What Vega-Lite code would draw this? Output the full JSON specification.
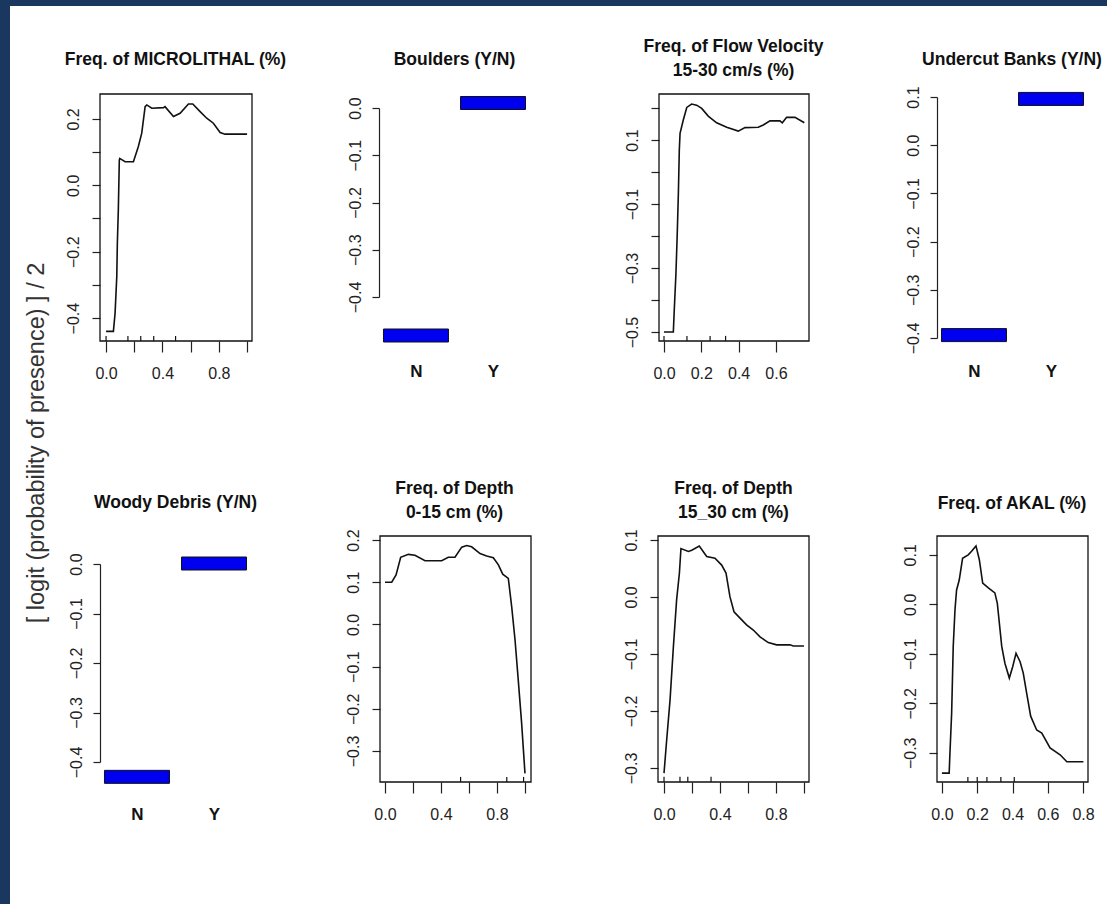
{
  "$schema": "https://vega.github.io/schema/vega-lite/v6.json",
  "background": "#1a375f",
  "padding": {"left": 10, "top": 6, "right": 0, "bottom": 0},
  "title": {"text": "[ logit (probability of presence) ] / 2", "orient": "left", "anchor": "middle", "frame": "bounds", "offset": -50, "dx": 12, "font": "Liberation Sans", "fontSize": 23.5, "fontWeight": "normal", "color": "#333", "baseline": "middle"},
  "columns": 4,
  "spacing": 0,
  "bounds": "flush",
  "concat": [
    {
      "width": 279, "height": 443,
      "title": {"text": "Freq. of MICROLITHAL (%)", "dx": 26, "offset": -62},
      "layer": [
        {
          "data": {"values": [{"x":0,"y":-0.44},{"x":0.052,"y":-0.44},{"x":0.064,"y":-0.385},{"x":0.076,"y":-0.275},{"x":0.08,"y":-0.175},{"x":0.087,"y":-0.074},{"x":0.094,"y":0.076},{"x":0.097,"y":0.081},{"x":0.135,"y":0.071},{"x":0.194,"y":0.071},{"x":0.229,"y":0.117},{"x":0.253,"y":0.157},{"x":0.277,"y":0.237},{"x":0.289,"y":0.242},{"x":0.324,"y":0.232},{"x":0.407,"y":0.234},{"x":0.418,"y":0.237},{"x":0.478,"y":0.207},{"x":0.525,"y":0.217},{"x":0.584,"y":0.245},{"x":0.615,"y":0.245},{"x":0.667,"y":0.222},{"x":0.714,"y":0.202},{"x":0.761,"y":0.187},{"x":0.809,"y":0.159},{"x":0.844,"y":0.154},{"x":1.0,"y":0.154}]},
          "mark": {"type": "line", "color": "#111", "strokeWidth": 1.6},
          "encoding": {
            "x": {"field": "x", "type": "quantitative", "scale": {"domain": [-0.043, 1.035], "range": [90, 242], "nice": false, "zero": false},
                  "axis": {"orient": "bottom", "offset": -108, "values": [0, 0.2, 0.4, 0.6, 0.8, 1], "labelExpr": "round(datum.value*10) % 4 == 0 ? format(datum.value, '.1f') : ''", "title": null, "domain": false, "tickSize": 11, "labelPadding": 13}},
            "y": {"field": "y", "type": "quantitative", "scale": {"domain": [-0.469, 0.275], "range": [335, 88], "nice": false, "zero": false},
                  "axis": {"orient": "left", "offset": -90, "values": [-0.4, -0.3, -0.2, -0.1, 0, 0.1, 0.2], "labelExpr": "round(datum.value*10) % 2 == 0 ? format(datum.value, '.1f') : ''", "title": null, "domain": false, "tickSize": 8, "labelAngle": -90, "labelAlign": "center", "labelBaseline": "bottom", "labelPadding": 11}}
          }
        },
        {"data": {"values": [{"box": "frame"}]}, "mark": {"type": "rect", "filled": false, "color": "#111", "strokeWidth": 1.3}, "encoding": {"x": {"datum": -0.043}, "x2": {"datum": 1.035}, "y": {"datum": -0.469}, "y2": {"datum": 0.275}}},
        {"data": {"values": [{"x":0},{"x":0.155},{"x":0.246},{"x":0.338},{"x":0.493}]}, "mark": {"type": "rule", "color": "#111", "strokeWidth": 1.2}, "encoding": {"x": {"field": "x", "type": "quantitative"}, "y": {"datum": -0.469}, "y2": {"datum": -0.454}}}
      ]
    },
    {
      "width": 279, "height": 443,
      "title": {"text": "Boulders (Y/N)", "dx": 26, "offset": -62},
      "data": {"values": [{"level": "N", "value": -0.4815}, {"level": "Y", "value": 0.0106}]},
      "mark": {"type": "tick", "size": 65, "thickness": 13, "color": "#0000f0", "stroke": "#111", "strokeWidth": 1, "opacity": 1},
      "encoding": {
        "x": {"field": "level", "type": "nominal", "scale": {"type": "point", "domain": ["N", "Y"], "range": [90, 241], "padding": 0.48},
              "axis": {"orient": "bottom", "offset": -108, "domain": false, "ticks": false, "tickSize": 0, "labelPadding": 22, "labelAngle": 0, "labelFont": "Liberation Sans", "labelFontWeight": "bold", "labelFontSize": 17, "labelColor": "#111", "title": null}},
        "y": {"field": "value", "type": "quantitative", "scale": {"domain": [-0.4, 0], "range": [291, 102], "nice": false, "zero": false},
              "axis": {"orient": "left", "offset": -90, "values": [-0.4, -0.3, -0.2, -0.1, 0], "format": ".1f", "title": null, "domain": true, "tickSize": 7, "labelAngle": -90, "labelAlign": "center", "labelBaseline": "bottom", "labelPadding": 9}}
      }
    },
    {
      "width": 279, "height": 443,
      "title": {"text": ["Freq. of Flow Velocity", "15-30 cm/s (%)"], "dx": 26, "offset": -73},
      "layer": [
        {
          "data": {"values": [{"x":0,"y":-0.5},{"x":0.05,"y":-0.5},{"x":0.055,"y":-0.431},{"x":0.064,"y":-0.317},{"x":0.071,"y":-0.192},{"x":0.077,"y":-0.067},{"x":0.082,"y":0.069},{"x":0.086,"y":0.121},{"x":0.103,"y":0.162},{"x":0.122,"y":0.202},{"x":0.148,"y":0.2125},{"x":0.175,"y":0.209},{"x":0.202,"y":0.199},{"x":0.237,"y":0.175},{"x":0.282,"y":0.154},{"x":0.336,"y":0.14},{"x":0.398,"y":0.128},{"x":0.434,"y":0.139},{"x":0.505,"y":0.14},{"x":0.532,"y":0.147},{"x":0.568,"y":0.16},{"x":0.621,"y":0.16},{"x":0.634,"y":0.154},{"x":0.657,"y":0.171},{"x":0.702,"y":0.171},{"x":0.752,"y":0.154}]},
          "mark": {"type": "line", "color": "#111", "strokeWidth": 1.6},
          "encoding": {
            "x": {"field": "x", "type": "quantitative", "scale": {"domain": [-0.0268, 0.777], "range": [91, 241], "nice": false, "zero": false},
                  "axis": {"orient": "bottom", "offset": -108, "values": [0, 0.2, 0.4, 0.6], "format": ".1f", "title": null, "domain": false, "tickSize": 11, "labelPadding": 13}},
            "y": {"field": "y", "type": "quantitative", "scale": {"domain": [-0.528, 0.244], "range": [335, 88], "nice": false, "zero": false},
                  "axis": {"orient": "left", "offset": -91, "values": [-0.5, -0.4, -0.3, -0.2, -0.1, 0, 0.1, 0.2], "labelExpr": "abs(round(datum.value*10)) % 2 == 1 ? format(datum.value, '.1f') : ''", "title": null, "domain": false, "tickSize": 8, "labelAngle": -90, "labelAlign": "center", "labelBaseline": "bottom", "labelPadding": 11}}
          }
        },
        {"data": {"values": [{"box": "frame"}]}, "mark": {"type": "rect", "filled": false, "color": "#111", "strokeWidth": 1.3}, "encoding": {"x": {"datum": -0.0268}, "x2": {"datum": 0.777}, "y": {"datum": -0.528}, "y2": {"datum": 0.244}}},
        {"data": {"values": [{"x":0},{"x":0.123},{"x":0.247},{"x":0.33}]}, "mark": {"type": "rule", "color": "#111", "strokeWidth": 1.2}, "encoding": {"x": {"field": "x", "type": "quantitative"}, "y": {"datum": -0.528}, "y2": {"datum": -0.512}}}
      ]
    },
    {
      "width": 260, "height": 443,
      "title": {"text": "Undercut Banks (Y/N)", "dx": 35, "offset": -62},
      "data": {"values": [{"level": "N", "value": -0.394}, {"level": "Y", "value": 0.096}]},
      "mark": {"type": "tick", "size": 65, "thickness": 13, "color": "#0000f0", "stroke": "#111", "strokeWidth": 1, "opacity": 1},
      "encoding": {
        "x": {"field": "level", "type": "nominal", "scale": {"type": "point", "domain": ["N", "Y"], "range": [90, 241], "padding": 0.48},
              "axis": {"orient": "bottom", "offset": -108, "domain": false, "ticks": false, "tickSize": 0, "labelPadding": 22, "labelAngle": 0, "labelFont": "Liberation Sans", "labelFontWeight": "bold", "labelFontSize": 17, "labelColor": "#111", "title": null}},
        "y": {"field": "value", "type": "quantitative", "scale": {"domain": [-0.4, 0.1], "range": [332, 91], "nice": false, "zero": false},
              "axis": {"orient": "left", "offset": -90, "values": [-0.4, -0.3, -0.2, -0.1, 0, 0.1], "format": ".1f", "title": null, "domain": true, "tickSize": 7, "labelAngle": -90, "labelAlign": "center", "labelBaseline": "bottom", "labelPadding": 9}}
      }
    },
    {
      "width": 279, "height": 455,
      "title": {"text": "Woody Debris (Y/N)", "dx": 26, "offset": -62},
      "data": {"values": [{"level": "N", "value": -0.43}, {"level": "Y", "value": 0.001}]},
      "mark": {"type": "tick", "size": 65, "thickness": 13, "color": "#0000f0", "stroke": "#111", "strokeWidth": 1, "opacity": 1},
      "encoding": {
        "x": {"field": "level", "type": "nominal", "scale": {"type": "point", "domain": ["N", "Y"], "range": [90, 241], "padding": 0.48},
              "axis": {"orient": "bottom", "offset": -122, "domain": false, "ticks": false, "tickSize": 0, "labelPadding": 24, "labelAngle": 0, "labelFont": "Liberation Sans", "labelFontWeight": "bold", "labelFontSize": 17, "labelColor": "#111", "title": null}},
        "y": {"field": "value", "type": "quantitative", "scale": {"domain": [-0.4, 0], "range": [313, 115], "nice": false, "zero": false},
              "axis": {"orient": "left", "offset": -90, "values": [-0.4, -0.3, -0.2, -0.1, 0], "format": ".1f", "title": null, "domain": true, "tickSize": 7, "labelAngle": -90, "labelAlign": "center", "labelBaseline": "bottom", "labelPadding": 9}}
      }
    },
    {
      "width": 279, "height": 455,
      "title": {"text": ["Freq. of Depth", " 0-15 cm (%)"], "dx": 26, "offset": -72},
      "layer": [
        {
          "data": {"values": [{"x":0,"y":0.1},{"x":0.048,"y":0.1},{"x":0.079,"y":0.117},{"x":0.112,"y":0.159},{"x":0.167,"y":0.166},{"x":0.214,"y":0.164},{"x":0.286,"y":0.151},{"x":0.405,"y":0.151},{"x":0.452,"y":0.159},{"x":0.5,"y":0.159},{"x":0.548,"y":0.183},{"x":0.583,"y":0.187},{"x":0.619,"y":0.184},{"x":0.679,"y":0.168},{"x":0.726,"y":0.162},{"x":0.774,"y":0.158},{"x":0.81,"y":0.141},{"x":0.841,"y":0.119},{"x":0.881,"y":0.109},{"x":0.905,"y":0.042},{"x":0.929,"y":-0.037},{"x":0.952,"y":-0.132},{"x":0.976,"y":-0.234},{"x":1.0,"y":-0.353}]},
          "mark": {"type": "line", "color": "#111", "strokeWidth": 1.6},
          "encoding": {
            "x": {"field": "x", "type": "quantitative", "scale": {"domain": [-0.0357, 1.043], "range": [91, 242], "nice": false, "zero": false},
                  "axis": {"orient": "bottom", "offset": -122, "values": [0, 0.2, 0.4, 0.6, 0.8, 1], "labelExpr": "round(datum.value*10) % 4 == 0 ? format(datum.value, '.1f') : ''", "title": null, "domain": false, "tickSize": 11, "labelPadding": 13}},
            "y": {"field": "y", "type": "quantitative", "scale": {"domain": [-0.3735, 0.2095], "range": [333, 87], "nice": false, "zero": false},
                  "axis": {"orient": "left", "offset": -91, "values": [-0.3, -0.2, -0.1, 0, 0.1, 0.2], "format": ".1f", "title": null, "domain": false, "tickSize": 8, "labelAngle": -90, "labelAlign": "center", "labelBaseline": "bottom", "labelPadding": 11}}
          }
        },
        {"data": {"values": [{"box": "frame"}]}, "mark": {"type": "rect", "filled": false, "color": "#111", "strokeWidth": 1.3}, "encoding": {"x": {"datum": -0.0357}, "x2": {"datum": 1.043}, "y": {"datum": -0.3735}, "y2": {"datum": 0.2095}}},
        {"data": {"values": [{"x":0.54},{"x":0.87},{"x":0.99}]}, "mark": {"type": "rule", "color": "#111", "strokeWidth": 1.2}, "encoding": {"x": {"field": "x", "type": "quantitative"}, "y": {"datum": -0.3735}, "y2": {"datum": -0.3615}}}
      ]
    },
    {
      "width": 279, "height": 455,
      "title": {"text": ["Freq. of Depth", " 15_30 cm (%)"], "dx": 26, "offset": -72},
      "layer": [
        {
          "data": {"values": [{"x":0,"y":-0.309},{"x":0.019,"y":-0.251},{"x":0.043,"y":-0.181},{"x":0.067,"y":-0.087},{"x":0.09,"y":-0.005},{"x":0.11,"y":0.042},{"x":0.121,"y":0.085},{"x":0.174,"y":0.08},{"x":0.198,"y":0.082},{"x":0.252,"y":0.0895},{"x":0.305,"y":0.071},{"x":0.364,"y":0.068},{"x":0.412,"y":0.056},{"x":0.443,"y":0.042},{"x":0.471,"y":0.0005},{"x":0.5,"y":-0.026},{"x":0.543,"y":-0.037},{"x":0.59,"y":-0.049},{"x":0.638,"y":-0.058},{"x":0.686,"y":-0.07},{"x":0.745,"y":-0.08},{"x":0.805,"y":-0.084},{"x":0.9,"y":-0.084},{"x":0.924,"y":-0.086},{"x":1.0,"y":-0.086}]},
          "mark": {"type": "line", "color": "#111", "strokeWidth": 1.6},
          "encoding": {
            "x": {"field": "x", "type": "quantitative", "scale": {"domain": [-0.043, 1.036], "range": [90, 241], "nice": false, "zero": false},
                  "axis": {"orient": "bottom", "offset": -122, "values": [0, 0.2, 0.4, 0.6, 0.8, 1], "labelExpr": "round(datum.value*10) % 4 == 0 ? format(datum.value, '.1f') : ''", "title": null, "domain": false, "tickSize": 11, "labelPadding": 13}},
            "y": {"field": "y", "type": "quantitative", "scale": {"domain": [-0.3246, 0.107], "range": [333, 87], "nice": false, "zero": false},
                  "axis": {"orient": "left", "offset": -90, "values": [-0.3, -0.2, -0.1, 0, 0.1], "format": ".1f", "title": null, "domain": false, "tickSize": 8, "labelAngle": -90, "labelAlign": "center", "labelBaseline": "bottom", "labelPadding": 11}}
          }
        },
        {"data": {"values": [{"box": "frame"}]}, "mark": {"type": "rect", "filled": false, "color": "#111", "strokeWidth": 1.3}, "encoding": {"x": {"datum": -0.043}, "x2": {"datum": 1.036}, "y": {"datum": -0.3246}, "y2": {"datum": 0.107}}},
        {"data": {"values": [{"x":0},{"x":0.114},{"x":0.17},{"x":0.336}]}, "mark": {"type": "rule", "color": "#111", "strokeWidth": 1.2}, "encoding": {"x": {"field": "x", "type": "quantitative"}, "y": {"datum": -0.3246}, "y2": {"datum": -0.3156}}}
      ]
    },
    {
      "width": 260, "height": 455,
      "title": {"text": "Freq. of AKAL (%)", "dx": 35, "offset": -63},
      "layer": [
        {
          "data": {"values": [{"x":0,"y":-0.341},{"x":0.041,"y":-0.341},{"x":0.045,"y":-0.304},{"x":0.055,"y":-0.22},{"x":0.064,"y":-0.085},{"x":0.074,"y":-0.011},{"x":0.083,"y":0.029},{"x":0.098,"y":0.049},{"x":0.117,"y":0.093},{"x":0.149,"y":0.1},{"x":0.168,"y":0.107},{"x":0.193,"y":0.118},{"x":0.212,"y":0.09},{"x":0.231,"y":0.043},{"x":0.263,"y":0.033},{"x":0.3,"y":0.023},{"x":0.314,"y":0.002},{"x":0.339,"y":-0.085},{"x":0.357,"y":-0.119},{"x":0.382,"y":-0.149},{"x":0.401,"y":-0.126},{"x":0.42,"y":-0.099},{"x":0.443,"y":-0.116},{"x":0.461,"y":-0.139},{"x":0.48,"y":-0.179},{"x":0.503,"y":-0.226},{"x":0.537,"y":-0.254},{"x":0.566,"y":-0.26},{"x":0.613,"y":-0.29},{"x":0.67,"y":-0.304},{"x":0.708,"y":-0.318},{"x":0.802,"y":-0.318}]},
          "mark": {"type": "line", "color": "#111", "strokeWidth": 1.6},
          "encoding": {
            "x": {"field": "x", "type": "quantitative", "scale": {"domain": [-0.028, 0.828], "range": [90, 241], "nice": false, "zero": false},
                  "axis": {"orient": "bottom", "offset": -122, "values": [0, 0.2, 0.4, 0.6, 0.8], "format": ".1f", "title": null, "domain": false, "tickSize": 11, "labelPadding": 13}},
            "y": {"field": "y", "type": "quantitative", "scale": {"domain": [-0.359, 0.138], "range": [333, 87], "nice": false, "zero": false},
                  "axis": {"orient": "left", "offset": -90, "values": [-0.3, -0.2, -0.1, 0, 0.1], "format": ".1f", "title": null, "domain": false, "tickSize": 8, "labelAngle": -90, "labelAlign": "center", "labelBaseline": "bottom", "labelPadding": 11}}
          }
        },
        {"data": {"values": [{"box": "frame"}]}, "mark": {"type": "rect", "filled": false, "color": "#111", "strokeWidth": 1.3}, "encoding": {"x": {"datum": -0.028}, "x2": {"datum": 0.828}, "y": {"datum": -0.359}, "y2": {"datum": 0.138}}},
        {"data": {"values": [{"x":0.147},{"x":0.2},{"x":0.255},{"x":0.334},{"x":0.41}]}, "mark": {"type": "rule", "color": "#111", "strokeWidth": 1.2}, "encoding": {"x": {"field": "x", "type": "quantitative"}, "y": {"datum": -0.359}, "y2": {"datum": -0.349}}}
      ]
    }
  ],
  "config": {
    "view": {"fill": "white", "stroke": null},
    "axis": {"grid": false, "labelFont": "Liberation Sans", "labelFontSize": 16, "labelColor": "#222", "tickColor": "#222", "tickWidth": 1.2, "domainColor": "#222", "domainWidth": 1.2, "labelFlush": false, "labelOverlap": false},
    "title": {"font": "Liberation Sans", "fontSize": 17.5, "fontWeight": "bold", "color": "#111", "anchor": "middle", "frame": "group", "baseline": "middle", "lineHeight": 24}
  }
}
